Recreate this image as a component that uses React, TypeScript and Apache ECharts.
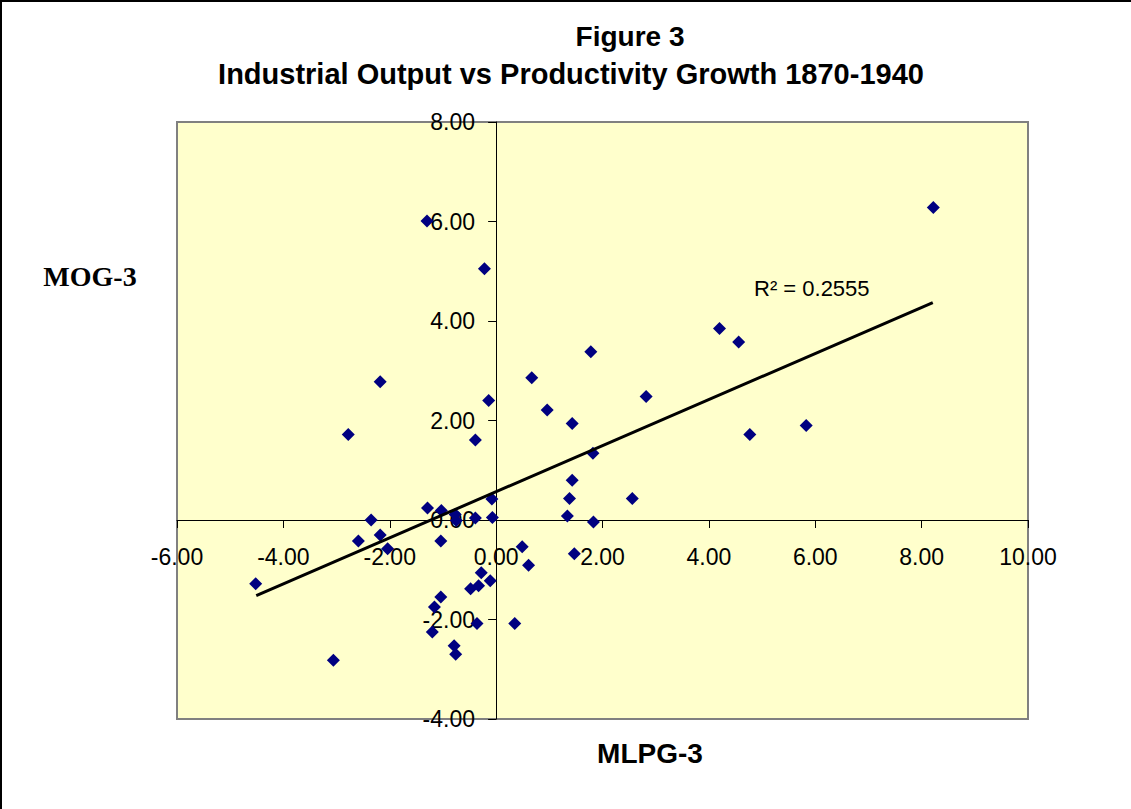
import React, { useEffect, useRef } from "react";
import * as echarts from "echarts";

// MLPG-3 (x) vs MOG-3 (y)
const mlpg: number[] = [
  -1.3, -0.22, -2.18, -0.14, -2.78, -0.39, -0.08, -1.29, -1.03, -0.77,
  -0.75, -0.39, -0.07, -2.35, -2.59, -2.18, -2.04, -1.04, -4.52, -0.28,
  -0.11, -0.33, -0.48, -1.04, -1.16, -0.36, -1.2, -0.79, -0.76, -3.06,
  0.35, 4.2, 4.56, 1.78, 0.67, 2.82, 0.96, 1.43, 4.77, 5.83,
  1.82, 1.43, 1.38, 2.56, 1.34, 1.83, 0.49, 1.47, 0.61, 8.22,
];
const mog: number[] = [
  6.01, 5.05, 2.78, 2.4, 1.72, 1.61, 0.42, 0.24, 0.19, 0.11,
  -0.01, 0.04, 0.05, 0.0, -0.42, -0.3, -0.58, -0.42, -1.28, -1.06,
  -1.22, -1.32, -1.38, -1.55, -1.75, -2.08, -2.25, -2.53, -2.7, -2.82,
  -2.08, 3.85, 3.58, 3.38, 2.86, 2.48, 2.21, 1.94, 1.72, 1.9,
  1.34, 0.8, 0.43, 0.43, 0.08, -0.04, -0.54, -0.68, -0.91, 6.28,
];
// linear trendline end points (from the picture)
const trendX: number[] = [-4.51, 8.21];
const trendY: number[] = [-1.52, 4.37];

const titleLines: string[] = ["Figure 3", "Industrial Output vs Productivity Growth 1870-1940"];
const xName = "MLPG-3";
const yName = "MOG-3";
const r2Label = "R² = 0.2555";

const SANS = "'Liberation Sans', Arial, sans-serif";
const SERIF = "'Liberation Serif', 'Times New Roman', serif";

export default function App() {
  const ref = useRef<HTMLDivElement>(null);
  useEffect(() => {
    if (!ref.current) return;
    const chart = echarts.init(ref.current, undefined, { renderer: "svg" });
    const points = mlpg.map((x, i) => [x, mog[i]]);
    const trend = trendX.map((x, i) => [x, trendY[i]]);
    chart.setOption({
      animation: false,
      backgroundColor: "#ffffff",
      grid: {
        left: 177,
        top: 122,
        width: 851,
        height: 597,
        show: true,
        backgroundColor: "#FFFFCC",
        borderColor: "#808080",
        borderWidth: 2,
      },
      xAxis: {
        type: "value",
        min: -6,
        max: 10,
        interval: 2,
        axisLine: { onZero: true, lineStyle: { color: "#000", width: 1 } },
        axisTick: { show: true, length: 8, lineStyle: { color: "#000" } },
        axisLabel: {
          formatter: (v: number) => v.toFixed(2),
          fontFamily: SANS,
          fontSize: 23,
          color: "#000",
          margin: -174,
          showMinLabel: true,
          showMaxLabel: true,
        },
        splitLine: { show: false },
      },
      yAxis: {
        type: "value",
        min: -4,
        max: 8,
        interval: 2,
        axisLine: { onZero: true, lineStyle: { color: "#000", width: 1 } },
        axisTick: { show: true, length: 8, lineStyle: { color: "#000" } },
        axisLabel: {
          formatter: (v: number) => v.toFixed(2),
          fontFamily: SANS,
          fontSize: 23,
          color: "#000",
          margin: -298,
          showMinLabel: true,
          showMaxLabel: true,
        },
        splitLine: { show: false },
      },
      series: [
        {
          type: "scatter",
          data: points,
          symbol: "diamond",
          symbolSize: 13,
          itemStyle: { color: "#000080", opacity: 1 },
          z: 3,
        },
        {
          type: "line",
          data: trend,
          showSymbol: false,
          symbol: "none",
          lineStyle: { color: "#000", width: 3 },
          z: 4,
        },
      ],
      graphic: [
        {
          type: "rect",
          shape: { x: 1, y: 1, width: 1300, height: 1000 },
          style: { fill: "none", stroke: "#000", lineWidth: 2 },
          silent: true,
        },
        {
          type: "text",
          x: 630,
          y: 36,
          style: {
            text: titleLines[0],
            font: `bold 28px ${SANS}`,
            fill: "#000",
            textAlign: "center",
            textVerticalAlign: "middle",
          },
        },
        {
          type: "text",
          x: 571,
          y: 74,
          style: {
            text: titleLines[1],
            font: `bold 29px ${SANS}`,
            fill: "#000",
            textAlign: "center",
            textVerticalAlign: "middle",
          },
        },
        {
          type: "text",
          x: 90,
          y: 276,
          style: {
            text: yName,
            font: `bold 28px ${SERIF}`,
            fill: "#000",
            textAlign: "center",
            textVerticalAlign: "middle",
          },
        },
        {
          type: "text",
          x: 650,
          y: 753,
          style: {
            text: xName,
            font: `bold 28px ${SANS}`,
            fill: "#000",
            textAlign: "center",
            textVerticalAlign: "middle",
          },
        },
        {
          type: "text",
          x: 754,
          y: 288,
          z: 10,
          style: {
            text: r2Label,
            font: `22px ${SANS}`,
            fill: "#000",
            textAlign: "left",
            textVerticalAlign: "middle",
          },
        },
      ],
    });
    return () => chart.dispose();
  }, []);
  return (
    <div
      ref={ref}
      style={{ position: "absolute", left: 0, top: 0, width: 1131, height: 809 }}
    />
  );
}
